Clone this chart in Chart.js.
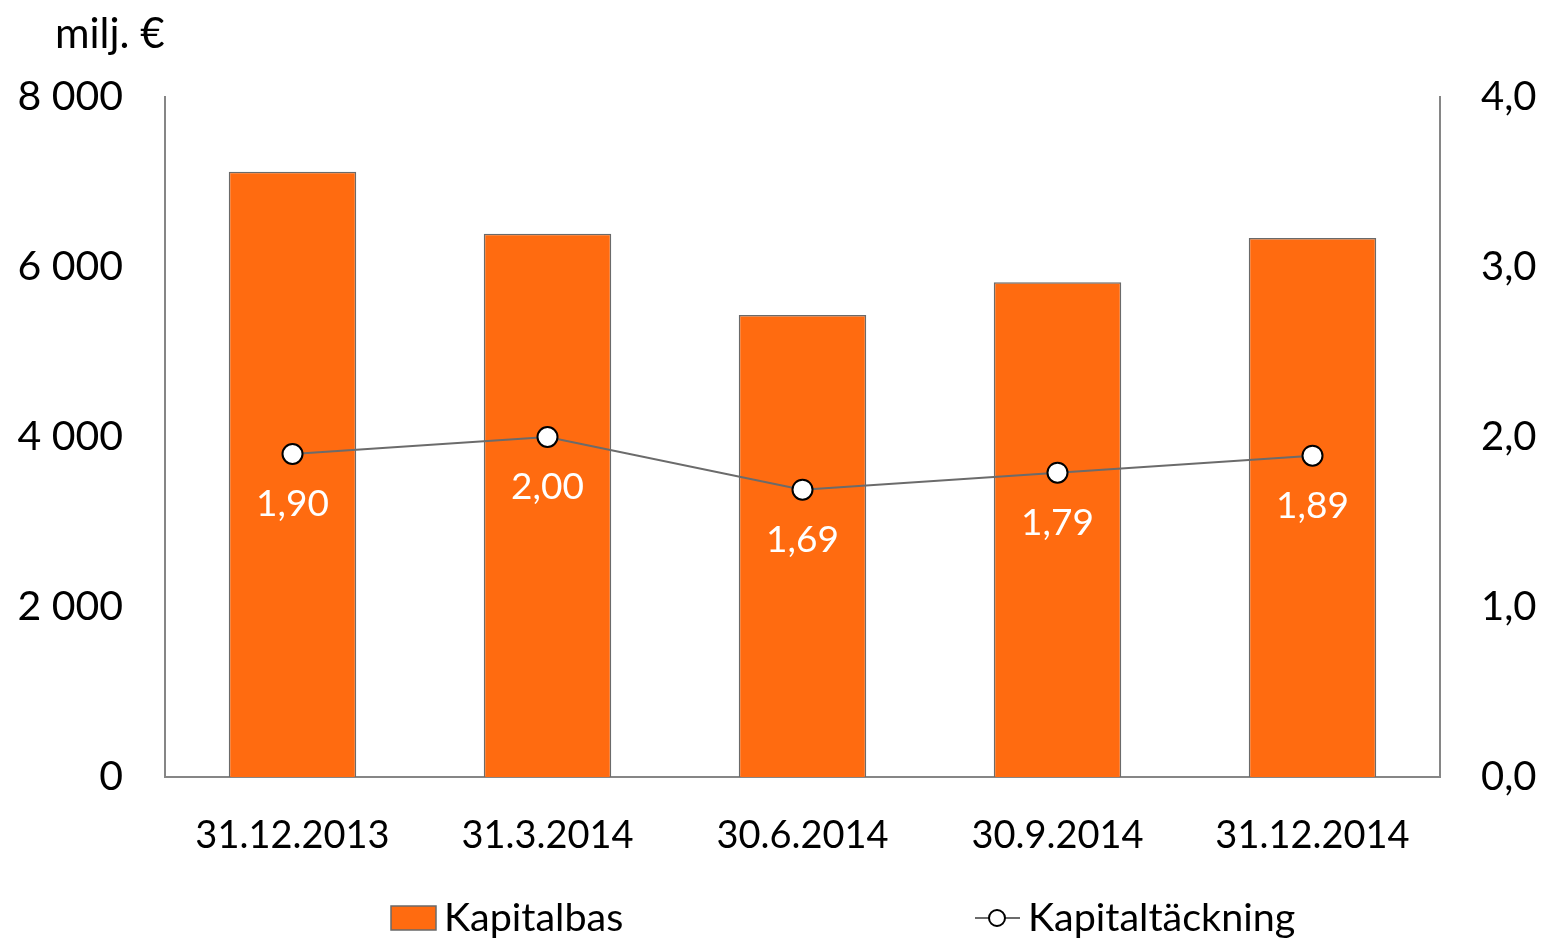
<!DOCTYPE html>
<html>
<head>
<meta charset="utf-8">
<script src="https://cdn.jsdelivr.net/npm/chart.js@4.4.1/dist/chart.umd.min.js"></script>
<style>
  html, body { margin: 0; padding: 0; background: #fff; }
  canvas { display: block; }
</style>
</head>
<body>
<canvas id="chart" width="1541" height="941"></canvas>
<script>
// Data
var categories = ["31.12.2013", "31.3.2014", "30.6.2014", "30.9.2014", "31.12.2014"];
var kapitalbas = [7120, 6390, 5435, 5820, 6340];
var kapitaltackning = [1.90, 2.00, 1.69, 1.79, 1.89];
var leftTicks = [0, 2000, 4000, 6000, 8000];
var rightTicks = [0, 1, 2, 3, 4];
var unitLabel = "milj. €";

var FONT = "Lato, 'Open Sans', sans-serif";
var ORANGE = "#FF6B10";
var AXIS = "#868686";

// Siffror med mellanslag som tusentalsavgränsare
function fmtThousands(v) {
    return String(Math.round(v)).replace(/\B(?=(\d{3})+(?!\d))/g, " ");
}
function fmtComma(v, d) {
    return v.toFixed(d).replace(".", ",");
}

// Etiketter under punkterna på linjen
var pointLabels = {
    id: "pointLabels",
    afterDatasetsDraw: function (chart) {
        var ctx = chart.ctx;
        var meta = chart.getDatasetMeta(1);
        ctx.save();
        ctx.fillStyle = "#fff";
        ctx.font = "37px " + FONT;
        ctx.textAlign = "center";
        ctx.textBaseline = "middle";
        meta.data.forEach(function (pt, i) {
            ctx.fillText(fmtComma(kapitaltackning[i], 2), pt.x, pt.y + 50);
        });
        ctx.restore();
    }
};

// Enhet uppe till vänster + förklaring nederst
var extras = {
    id: "extras",
    afterDraw: function (chart) {
        var ctx = chart.ctx;
        var ds = chart.data.datasets;
        ctx.save();
        ctx.fillStyle = "#000";
        ctx.textBaseline = "middle";
        ctx.textAlign = "left";
        ctx.font = "42px " + FONT;
        ctx.fillText(unitLabel, 55, 34);

        // Kapitalbas
        ctx.fillStyle = ds[0].backgroundColor;
        ctx.fillRect(391, 906, 45, 24);
        ctx.strokeStyle = ds[0].borderColor;
        ctx.lineWidth = 1.5;
        ctx.strokeRect(391, 906, 45, 24);
        ctx.fillStyle = "#000";
        ctx.font = "39.5px " + FONT;
        ctx.fillText(ds[0].label, 444, 918);

        // Kapitaltäckning
        ctx.strokeStyle = ds[1].borderColor;
        ctx.lineWidth = 2;
        ctx.beginPath();
        ctx.moveTo(975, 918);
        ctx.lineTo(1020, 918);
        ctx.stroke();
        ctx.beginPath();
        ctx.arc(997, 918, 8, 0, Math.PI * 2);
        ctx.fillStyle = "#fff";
        ctx.fill();
        ctx.strokeStyle = "#000";
        ctx.stroke();
        ctx.fillStyle = "#000";
        ctx.fillText(ds[1].label, 1028, 918);
        ctx.restore();
    }
};

new Chart(document.getElementById("chart").getContext("2d"), {
    data: {
        labels: categories,
        datasets: [
            {
                type: "bar",
                label: "Kapitalbas",
                data: kapitalbas,
                yAxisID: "y",
                backgroundColor: ORANGE,
                borderColor: "#6a6a6a",
                borderWidth: 1.5,
                categoryPercentage: 1.0,
                barPercentage: 0.5,
                order: 2
            },
            {
                type: "line",
                label: "Kapitaltäckning",
                data: kapitaltackning,
                yAxisID: "y1",
                borderColor: "#6b6b6b",
                borderWidth: 2,
                pointRadius: 10,
                pointHoverRadius: 10,
                pointBackgroundColor: "#fff",
                pointBorderColor: "#000",
                pointBorderWidth: 2,
                tension: 0,
                order: 1
            }
        ]
    },
    options: {
        responsive: false,
        animation: false,
        layout: { padding: { top: 97, left: 0, right: 0, bottom: 0 } },
        plugins: {
            legend: { display: false },
            tooltip: { enabled: false }
        },
        scales: {
            x: {
                grid: { display: false, drawTicks: false },
                border: { display: true, color: AXIS, width: 2 },
                ticks: { color: "#000", font: { family: FONT, size: 38 }, padding: 36 },
                afterFit: function (s) { s.height = 164; }
            },
            y: {
                position: "left",
                min: 0,
                max: 8000,
                afterBuildTicks: function (s) { s.ticks = leftTicks.map(function (v) { return { value: v }; }); },
                grid: { display: false, drawTicks: false },
                border: { display: true, color: AXIS, width: 2 },
                ticks: {
                    color: "#000",
                    font: { family: FONT, size: 41 },
                    padding: 42,
                    callback: function (v) { return fmtThousands(v); }
                },
                afterFit: function (s) { s.width = 165; }
            },
            y1: {
                position: "right",
                min: 0,
                max: 4,
                afterBuildTicks: function (s) { s.ticks = rightTicks.map(function (v) { return { value: v }; }); },
                grid: { display: false, drawTicks: false },
                border: { display: true, color: AXIS, width: 2 },
                ticks: {
                    color: "#000",
                    font: { family: FONT, size: 40 },
                    padding: 41,
                    callback: function (v) { return fmtComma(v, 1); }
                },
                afterFit: function (s) { s.width = 101; }
            }
        }
    },
    plugins: [pointLabels, extras]
});
</script>
</body>
</html>
